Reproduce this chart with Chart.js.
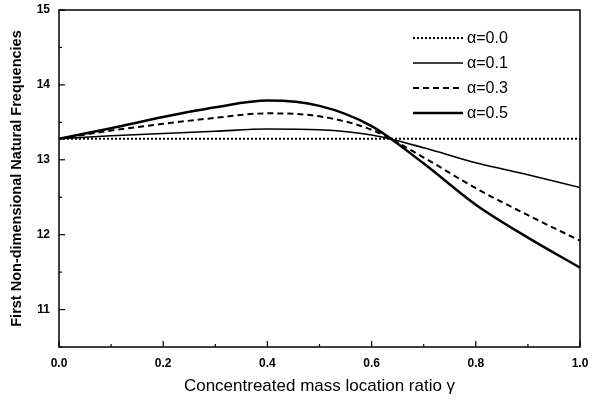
<!DOCTYPE html>
<html>
<head>
<meta charset="utf-8">
<script src="https://cdn.jsdelivr.net/npm/chart.js@4/dist/chart.umd.min.js"></script>
<style>
  html, body { margin: 0; padding: 0; background: #fff; }
  #wrap { width: 592px; height: 401px; }
</style>
</head>
<body>
<div id="wrap"><canvas id="chart"></canvas></div>
<script>
const gammas = [0, 0.1, 0.2, 0.3, 0.4, 0.5, 0.6, 0.7, 0.8, 0.9, 1.0];
const alpha00 = [13.28, 13.28, 13.28, 13.28, 13.28, 13.28, 13.28, 13.28, 13.28, 13.28, 13.28];
const alpha01 = [13.28, 13.32, 13.35, 13.38, 13.41, 13.40, 13.33, 13.16, 12.96, 12.80, 12.63];
const alpha03 = [13.28, 13.39, 13.48, 13.56, 13.62, 13.58, 13.40, 13.03, 12.62, 12.26, 11.92];
const alpha05 = [13.28, 13.42, 13.57, 13.70, 13.79, 13.72, 13.45, 12.95, 12.40, 11.96, 11.56];
const seriesLabels = ['\u03b1=0.0', '\u03b1=0.1', '\u03b1=0.3', '\u03b1=0.5'];

function pts(ys) {
  return gammas.map((g, i) => ({ x: g, y: ys[i] }));
}

// frame, inward ticks and the boxed legend
const extras = {
  id: 'extras',
  afterDraw(chart) {
    const ctx = chart.ctx;
    const a = chart.chartArea;
    ctx.save();
    ctx.strokeStyle = '#000';
    ctx.lineWidth = 1.5;
    ctx.strokeRect(a.left, a.top, a.right - a.left, a.bottom - a.top);

    const xs = chart.scales.x, ys = chart.scales.y;
    ctx.lineWidth = 1.2;
    xs.ticks.forEach(t => {
      const px = xs.getPixelForValue(t.value);
      const major = Math.round(t.value * 10) % 2 === 0;
      ctx.beginPath();
      ctx.moveTo(px, a.bottom);
      ctx.lineTo(px, a.bottom - (major ? 6 : 3));
      ctx.stroke();
    });
    ys.ticks.forEach(t => {
      const py = ys.getPixelForValue(t.value);
      const major = Math.abs(t.value - Math.round(t.value)) < 1e-6;
      ctx.beginPath();
      ctx.moveTo(a.left, py);
      ctx.lineTo(a.left + (major ? 6 : 3), py);
      ctx.stroke();
    });

    // legend
    const lx = 413, lw = 50, ty = [38, 63, 88, 113];
    ctx.font = '16px "Liberation Sans", Arial, sans-serif';
    ctx.textBaseline = 'middle';
    ctx.fillStyle = '#000';
    chart.data.datasets.forEach((ds, i) => {
      ctx.beginPath();
      ctx.setLineDash(ds.borderDash || []);
      ctx.lineWidth = ds.borderWidth;
      ctx.moveTo(lx, ty[i]);
      ctx.lineTo(lx + lw, ty[i]);
      ctx.stroke();
      ctx.setLineDash([]);
      ctx.fillText(ds.label, lx + lw + 4, ty[i] + 1);
    });
    ctx.restore();
  }
};

new Chart(document.getElementById('chart'), {
  type: 'line',
  data: {
    datasets: [
      { label: seriesLabels[0], data: pts(alpha00), borderColor: '#000', borderWidth: 2, borderDash: [2, 2] },
      { label: seriesLabels[1], data: pts(alpha01), borderColor: '#000', borderWidth: 1.6 },
      { label: seriesLabels[2], data: pts(alpha03), borderColor: '#000', borderWidth: 2, borderDash: [6, 4] },
      { label: seriesLabels[3], data: pts(alpha05), borderColor: '#000', borderWidth: 2.5 }
    ]
  },
  options: {
    responsive: true,
    maintainAspectRatio: false,
    animation: false,
    layout: { padding: { top: 10, right: 12, left: 0, bottom: 0 } },
    elements: { point: { radius: 0 }, line: { tension: 0.4, cubicInterpolationMode: 'monotone', fill: false } },
    plugins: { legend: { display: false }, tooltip: { enabled: false } },
    scales: {
      x: {
        type: 'linear',
        min: 0, max: 1,
        afterFit: s => { s.height = 54; s.paddingRight = 0; s.paddingLeft = 0; },
        ticks: {
          stepSize: 0.1,
          autoSkip: false,
          maxRotation: 0,
          padding: 9,
          color: '#000',
          font: { family: '"Liberation Sans", Arial, sans-serif', size: 12, weight: 'bold' },
          callback: v => (Math.round(v * 10) % 2 === 0 ? v.toFixed(1) : '')
        },
        grid: { display: true, drawOnChartArea: false, drawTicks: false, color: 'rgba(0,0,0,0)' },
        border: { display: false },
        title: {
          display: true,
          text: 'Concentreated mass location ratio \u03b3',
          color: '#000',
          padding: { top: 0, bottom: 4 },
          font: { family: '"Liberation Sans", Arial, sans-serif', size: 17 }
        }
      },
      y: {
        min: 10.5, max: 15,
        afterFit: s => { s.width = 59; s.paddingTop = 0; s.paddingBottom = 0; },
        ticks: {
          stepSize: 0.5,
          autoSkip: false,
          padding: 9,
          color: '#000',
          font: { family: '"Liberation Sans", Arial, sans-serif', size: 12, weight: 'bold' },
          callback: v => (Math.abs(v - Math.round(v)) < 1e-6 ? String(Math.round(v)) : '')
        },
        grid: { display: true, drawOnChartArea: false, drawTicks: false, color: 'rgba(0,0,0,0)' },
        border: { display: false },
        title: {
          display: true,
          text: 'First Non-dimensional Natural Frequencies',
          color: '#000',
          padding: { top: 8, bottom: 0 },
          font: { family: '"Liberation Sans", Arial, sans-serif', size: 14.5, weight: 'bold' }
        }
      }
    }
  },
  plugins: [extras]
});
</script>
</body>
</html>
